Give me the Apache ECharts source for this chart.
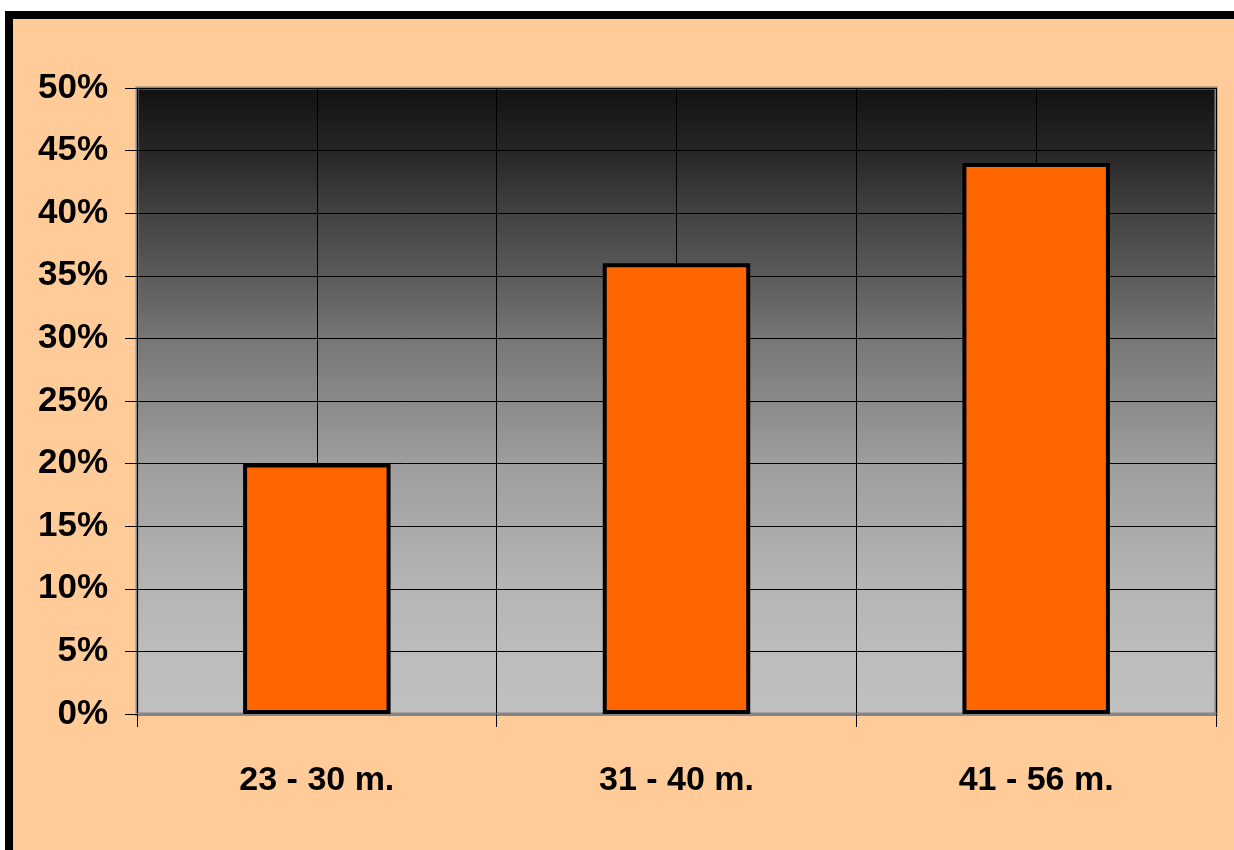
<!DOCTYPE html>
<html>
<head>
<meta charset="utf-8">
<script src="https://cdn.jsdelivr.net/npm/echarts@6/dist/echarts.min.js"></script>
<style>
html,body{margin:0;padding:0;background:#fff;}
#chart{width:1234px;height:850px;}
</style>
</head>
<body>
<div id="chart"></div>
<script>
const categories = ['23 - 30 m.', '31 - 40 m.', '41 - 56 m.'];
const values = [0.20, 0.36, 0.44];
const halfSlots = ['a', 'b', 'c', 'd', 'e', 'f'];

const FONT = '"Liberation Sans Narrow", "Arial Narrow", "Liberation Sans", Arial, sans-serif';

const chart = echarts.init(document.getElementById('chart'));
chart.setOption({
  backgroundColor: '#ffffff',
  animation: false,
  graphic: [{
    type: 'rect',
    z: -10,
    silent: true,
    shape: { x: 9, y: 15, width: 1400, height: 1000 },
    style: { fill: '#FFCC99', stroke: '#000000', lineWidth: 8 }
  }],
  grid: {
    left: 137, top: 88, right: 18, bottom: 136,
    show: true,
    borderColor: '#858585',
    borderWidth: 3,
    backgroundColor: new echarts.graphic.LinearGradient(0, 0, 0, 1, [
      { offset: 0, color: '#111111' },
      { offset: 0.1, color: '#262626' },
      { offset: 0.2, color: '#424242' },
      { offset: 0.3, color: '#5a5a5a' },
      { offset: 0.4, color: '#767676' },
      { offset: 0.5, color: '#8a8a8a' },
      { offset: 0.6, color: '#9e9e9e' },
      { offset: 0.7, color: '#aaaaaa' },
      { offset: 0.8, color: '#b5b5b5' },
      { offset: 0.9, color: '#bcbcbc' },
      { offset: 1, color: '#c0c0c0' }
    ])
  },
  xAxis: [{
    type: 'category',
    data: categories,
    axisLine: { show: true, lineStyle: { color: '#858585', width: 3 } },
    axisTick: { show: true, length: 13, lineStyle: { color: '#000', width: 1 } },
    splitLine: { show: false },
    axisLabel: {
      margin: 50,
      color: '#000',
      fontFamily: FONT,
      fontWeight: 'bold',
      fontSize: 34
    }
  }, {
    type: 'category',
    data: halfSlots,
    position: 'bottom',
    axisLine: { show: false },
    axisTick: { show: false },
    axisLabel: { show: false },
    splitLine: { show: true, lineStyle: { color: '#000', width: 1 } }
  }],
  yAxis: {
    type: 'value',
    min: 0, max: 0.5, interval: 0.05,
    axisLine: { show: false },
    axisTick: { show: true, length: 12, lineStyle: { color: '#000', width: 1 } },
    splitLine: { show: true, lineStyle: { color: '#000', width: 1 } },
    axisLabel: {
      margin: 29,
      color: '#000',
      fontFamily: FONT,
      fontWeight: 'bold',
      fontSize: 35,
      formatter: v => Math.round(v * 100) + '%'
    }
  },
  series: [{
    type: 'bar',
    data: values,
    xAxisIndex: 0,
    barWidth: '41%',
    itemStyle: { color: '#FF6600', borderColor: '#000', borderWidth: 4 }
  }]
});
</script>
</body>
</html>
